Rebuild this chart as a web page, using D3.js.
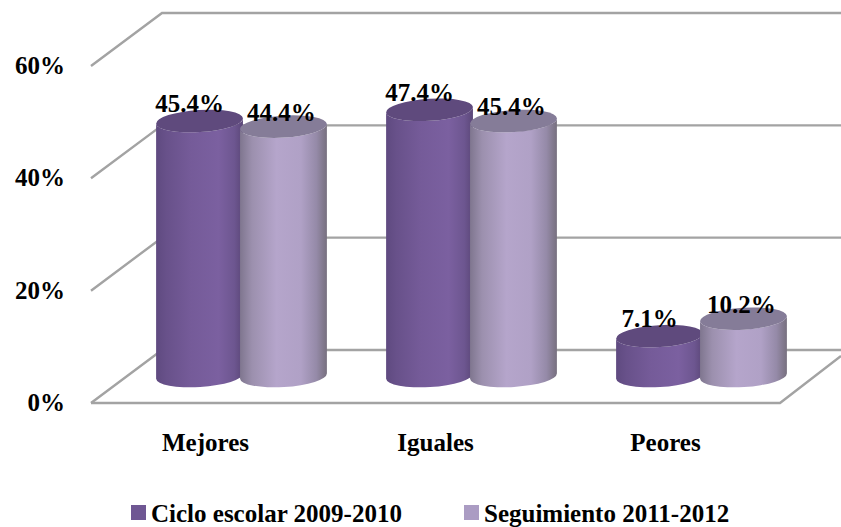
<!DOCTYPE html>
<html><head><meta charset="utf-8">
<script src="https://cdn.jsdelivr.net/npm/d3@7"></script>
<style>html,body{margin:0;padding:0;background:#fff}svg{display:block}text{font-family:"Liberation Serif",serif;font-weight:bold;fill:#000}</style>
</head><body><div id="c"></div>
<script>
const categories = ["Mejores","Iguales","Peores"];
const seriesNames = ["Ciclo escolar 2009-2010","Seguimiento 2011-2012"];
const ciclo = [45.4,47.4,7.1];
const seguimiento = [44.4,45.4,10.2];
const ticks = [0,20,40,60];
const W=841,H=527;
const svg=d3.select("#c").append("svg").attr("width",W).attr("height",H);
const y=d3.scaleLinear().domain([0,60]).range([403,66]);
const x0=d3.scaleBand().domain(categories).range([126.5,816.5]);
const x1=d3.scaleBand().domain([0,1]).range([0,x0.bandwidth()]).paddingInner(0).paddingOuter(.37);
const depth={dx:71,dy:-53};
const rim="#a3a3a3";
const defs=svg.append("defs");
function grad(id,stops){
  const g=defs.append("linearGradient").attr("id",id).attr("x1",0).attr("x2",1).attr("y1",0).attr("y2",0);
  stops.forEach(s=>g.append("stop").attr("offset",s[0]).attr("stop-color",s[1]));
}
grad("g0",[[0,"#5f4a80"],[.12,"#68518a"],[.4,"#755b99"],[.72,"#7b60a0"],[.9,"#6d5690"],[1,"#5b4778"]]);
grad("g1",[[0,"#7f768f"],[.14,"#9c90ae"],[.42,"#b5a5cb"],[.7,"#b0a1c6"],[.88,"#958aa8"],[1,"#77707f"]]);
const topColors=["#5f4a7d","#857c98"];
const xl=91,xr=780;
const gridG=svg.append("g").attr("fill","none").attr("stroke",rim).attr("stroke-width",2.4);
ticks.forEach(t=>{
  gridG.append("path").attr("d",d3.line()([[xl,y(t)],[xl+depth.dx,y(t)+depth.dy],[W,y(t)+depth.dy]]));
});
gridG.append("path").attr("d",d3.line()([[xl,y(0)],[xr,y(0)],[W,y(0)-47]]));
svg.append("g").selectAll("text").data(ticks).join("text")
  .attr("x",65).attr("y",d=>y(d)+8).attr("text-anchor","end").attr("font-size",25).text(d=>d+"%");
svg.append("g").selectAll("text").data(categories).join("text")
  .attr("x",d=>x0(d)+x0.bandwidth()/2-36).attr("y",451).attr("text-anchor","middle").attr("font-size",25).text(d=>d);
const rx=43.5,ry=11,tilt=-3.5*Math.PI/180,base=y(0)-27;
const perPct=(y(0)-y(1));
function ends(cx,cy){return [cx-rx*Math.cos(tilt),cy-rx*Math.sin(tilt),cx+rx*Math.cos(tilt),cy+rx*Math.sin(tilt)];}
const deg=tilt*180/Math.PI;
const marks=[];
categories.forEach((c,i)=>{[ciclo[i],seguimiento[i]].forEach((v,s)=>marks.push({c,v,s}));});
const cg=svg.append("g");
marks.forEach(m=>{
  const cx=x0(m.c)+x1(m.s)+x1.bandwidth()/2, cyT=base-m.v*perPct;
  const [ax,ay,bx,by]=ends(cx,cyT), [cx1,cy1,dx1,dy1]=ends(cx,base);
  m.cx=cx;m.cyT=cyT;
  cg.append("path").attr("fill",`url(#g${m.s})`)
    .attr("d",`M${ax},${ay}L${cx1},${cy1}A${rx},${ry} ${deg} 0 0 ${dx1},${dy1}L${bx},${by}A${rx},${ry} ${deg} 0 1 ${ax},${ay}Z`);
  cg.append("ellipse").attr("cx",cx).attr("cy",cyT).attr("rx",rx).attr("ry",ry)
    .attr("transform",`rotate(${deg} ${cx} ${cyT})`).attr("fill",topColors[m.s]);
});
svg.append("g").selectAll("text").data(marks).join("text")
  .attr("x",d=>d.cx+(d.s?-2:-10)).attr("y",d=>d.cyT-6+(d.s?0:-3)).attr("text-anchor","middle").attr("font-size",25)
  .text(d=>d.v.toFixed(1)+"%");
const lg=svg.append("g");
const lx=[131,464],sw=[ "#6f5793","#ab9cc3"];
seriesNames.forEach((n,i)=>{
  lg.append("rect").attr("x",lx[i]).attr("y",505).attr("width",15).attr("height",15).attr("fill",sw[i]);
  lg.append("text").attr("x",lx[i]+20).attr("y",522).attr("font-size",25).text(n);
});
</script></body></html>
